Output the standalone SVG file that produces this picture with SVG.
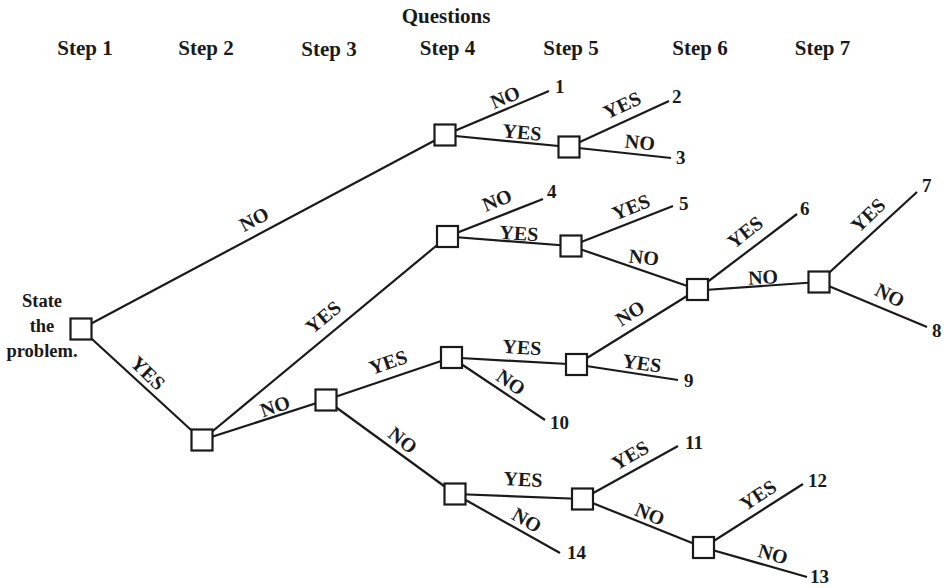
<svg xmlns="http://www.w3.org/2000/svg" width="944" height="588" viewBox="0 0 944 588">
<style>
text{font-family:"Liberation Serif","Times New Roman",serif;font-weight:bold;fill:#1a1a1a}
.h{font-size:21px;text-anchor:middle}
.st{font-size:18.5px;text-anchor:middle}
.lb{font-size:20px;text-anchor:middle}
.n{font-size:19px}
.c line{stroke:#1a1a1a;stroke-width:2.2}
.box{fill:#fff;stroke:#1a1a1a;stroke-width:2.2}
</style>
<rect width="944" height="588" fill="#fff"/>
<g id="headers">
<text class="h" x="446" y="23">Questions</text>
<text class="h" x="85" y="55">Step 1</text>
<text class="h" x="206" y="55">Step 2</text>
<text class="h" x="329" y="56">Step 3</text>
<text class="h" x="447.5" y="55">Step 4</text>
<text class="h" x="571" y="55">Step 5</text>
<text class="h" x="700" y="55">Step 6</text>
<text class="h" x="822.5" y="55">Step 7</text>
</g>
<g id="connectors" class="c">
<line x1="81" y1="329" x2="445" y2="135"/>
<line x1="81" y1="329" x2="202" y2="440"/>
<line x1="202" y1="440" x2="447.5" y2="236.5"/>
<line x1="202" y1="440" x2="326" y2="400"/>
<line x1="326" y1="400" x2="451.5" y2="357.5"/>
<line x1="326" y1="400" x2="455" y2="494"/>
<line x1="445" y1="135" x2="549" y2="91"/>
<line x1="445" y1="135" x2="569" y2="147"/>
<line x1="569" y1="147" x2="669" y2="101"/>
<line x1="569" y1="147" x2="671" y2="158"/>
<line x1="447.5" y1="236.5" x2="543" y2="199"/>
<line x1="447.5" y1="236.5" x2="571" y2="246"/>
<line x1="571" y1="246" x2="673" y2="206"/>
<line x1="571" y1="246" x2="697.5" y2="289.5"/>
<line x1="697.5" y1="289.5" x2="797" y2="214"/>
<line x1="697.5" y1="290.5" x2="819" y2="282"/>
<line x1="819" y1="282" x2="917" y2="192"/>
<line x1="819" y1="282" x2="927" y2="327"/>
<line x1="576.5" y1="364.5" x2="697.5" y2="289.5"/>
<line x1="451.5" y1="357.5" x2="576.5" y2="364.5"/>
<line x1="576.5" y1="364.5" x2="678" y2="380"/>
<line x1="451.5" y1="357.5" x2="545" y2="420"/>
<line x1="455" y1="494" x2="582.5" y2="499"/>
<line x1="582.5" y1="499" x2="678" y2="446"/>
<line x1="455" y1="494" x2="560" y2="553"/>
<line x1="582.5" y1="499" x2="703.5" y2="547.5"/>
<line x1="703.5" y1="547.5" x2="803" y2="484"/>
<line x1="703.5" y1="547.5" x2="807" y2="577"/>
</g>
<g id="edge-labels">
<text class="lb" transform="translate(254,219) rotate(-28)" y="7">NO</text>
<text class="lb" transform="translate(148,373) rotate(44)" y="7">YES</text>
<text class="lb" transform="translate(323,317) rotate(-40)" y="7">YES</text>
<text class="lb" transform="translate(275,406) rotate(-19)" y="7">NO</text>
<text class="lb" transform="translate(388,362) rotate(-19)" y="7">YES</text>
<text class="lb" transform="translate(403,440) rotate(38)" y="7">NO</text>
<text class="lb" transform="translate(505,97) rotate(-23)" y="7">NO</text>
<text class="lb" transform="translate(522,132) rotate(5)" y="7">YES</text>
<text class="lb" transform="translate(622,105) rotate(-25)" y="7">YES</text>
<text class="lb" transform="translate(640,142) rotate(6)" y="7">NO</text>
<text class="lb" transform="translate(497,200) rotate(-22)" y="7">NO</text>
<text class="lb" transform="translate(519,233) rotate(4)" y="7">YES</text>
<text class="lb" transform="translate(631,207) rotate(-22)" y="7">YES</text>
<text class="lb" transform="translate(644,257) rotate(6)" y="7">NO</text>
<text class="lb" transform="translate(745,232) rotate(-38)" y="7">YES</text>
<text class="lb" transform="translate(763,277) rotate(-3)" y="7">NO</text>
<text class="lb" transform="translate(868,215) rotate(-44)" y="7">YES</text>
<text class="lb" transform="translate(890,295) rotate(27)" y="7">NO</text>
<text class="lb" transform="translate(630,313) rotate(-33)" y="7">NO</text>
<text class="lb" transform="translate(522,347) rotate(4)" y="7">YES</text>
<text class="lb" transform="translate(642,363) rotate(8)" y="7">YES</text>
<text class="lb" transform="translate(511,382) rotate(35)" y="7">NO</text>
<text class="lb" transform="translate(523,479) rotate(3)" y="7">YES</text>
<text class="lb" transform="translate(630,455) rotate(-30)" y="7">YES</text>
<text class="lb" transform="translate(527,520) rotate(30)" y="7">NO</text>
<text class="lb" transform="translate(650,514) rotate(22)" y="7">NO</text>
<text class="lb" transform="translate(758,495) rotate(-33)" y="7">YES</text>
<text class="lb" transform="translate(773,554) rotate(16)" y="7">NO</text>
</g>
<g id="node-root">
<rect class="box" x="70.5" y="318.5" width="21" height="21"/>
<text class="st" x="42" y="307">State</text>
<text class="st" x="42" y="332">the</text>
<text class="st" x="42" y="357">problem.</text>
</g>
<g id="node-s2"><rect class="box" x="191.5" y="429.5" width="21" height="21"/></g>
<g id="node-s3"><rect class="box" x="315.5" y="389.5" width="21" height="21"/></g>
<g id="node-s4a"><rect class="box" x="434.5" y="124.5" width="21" height="21"/></g>
<g id="node-s4b"><rect class="box" x="437" y="226" width="21" height="21"/></g>
<g id="node-s4c"><rect class="box" x="441" y="347" width="21" height="21"/></g>
<g id="node-s4d"><rect class="box" x="444.5" y="483.5" width="21" height="21"/></g>
<g id="node-s5a"><rect class="box" x="558.5" y="136.5" width="21" height="21"/></g>
<g id="node-s5b"><rect class="box" x="560.5" y="235.5" width="21" height="21"/></g>
<g id="node-s5c"><rect class="box" x="566" y="354" width="21" height="21"/></g>
<g id="node-s5d"><rect class="box" x="572" y="488.5" width="21" height="21"/></g>
<g id="node-s6a"><rect class="box" x="687" y="279" width="21" height="21"/></g>
<g id="node-s6b"><rect class="box" x="693" y="537" width="21" height="21"/></g>
<g id="node-s7"><rect class="box" x="808.5" y="271.5" width="21" height="21"/></g>
<g id="outcomes">
<text class="n" x="555" y="93">1</text>
<text class="n" x="672" y="103">2</text>
<text class="n" x="676" y="164">3</text>
<text class="n" x="547" y="198">4</text>
<text class="n" x="679" y="210">5</text>
<text class="n" x="800" y="215">6</text>
<text class="n" x="922" y="192">7</text>
<text class="n" x="932" y="337">8</text>
<text class="n" x="684" y="387">9</text>
<text class="n" x="550" y="429">10</text>
<text class="n" x="685" y="449">11</text>
<text class="n" x="808" y="487">12</text>
<text class="n" x="810" y="583">13</text>
<text class="n" x="567" y="559">14</text>
</g>
</svg>
